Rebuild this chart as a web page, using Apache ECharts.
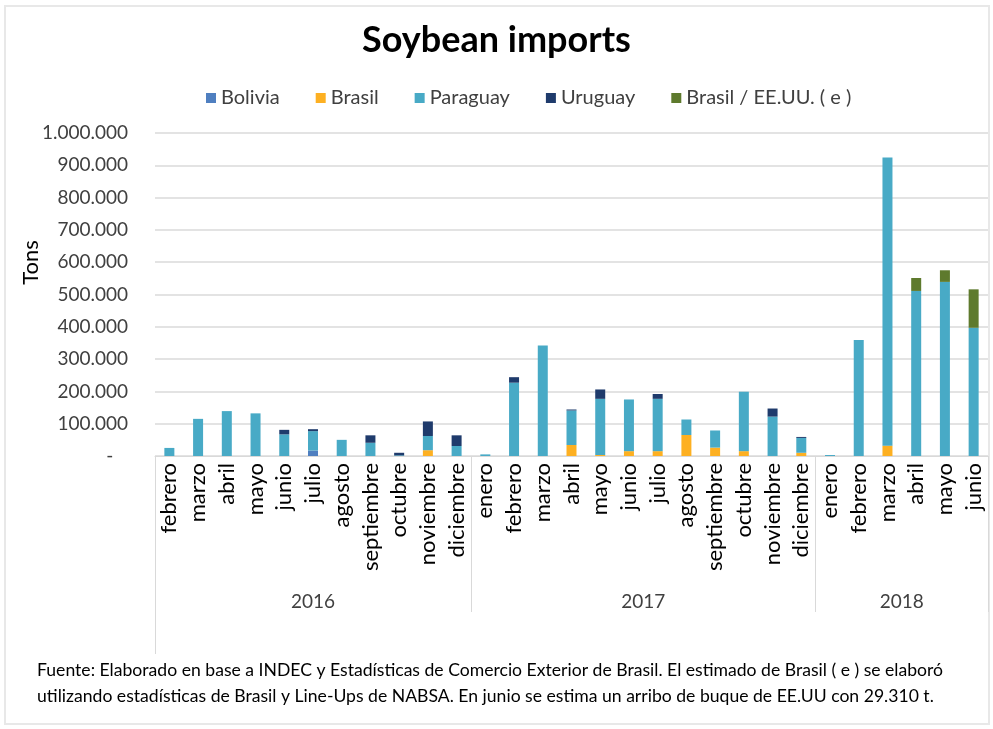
<!DOCTYPE html>
<html>
<head>
<meta charset="utf-8">
<script src="https://cdn.jsdelivr.net/npm/echarts@6/dist/echarts.min.js"></script>
<style>
  html, body { margin: 0; padding: 0; background: #fff; }
  #frame { position: absolute; left: 4px; top: 5px; width: 986px; height: 720px; border: 2px solid #e8e8e8; box-sizing: border-box; }
  #chart { position: absolute; left: 0; top: 0; width: 993px; height: 729px; }
</style>
</head>
<body>
<div id="frame"></div>
<div id="chart"></div>
<script>
// ---- Data ----
const months = [
  'febrero','marzo','abril','mayo','junio','julio','agosto','septiembre','octubre','noviembre','diciembre',
  'enero','febrero','marzo','abril','mayo','junio','julio','agosto','septiembre','octubre','noviembre','diciembre',
  'enero','febrero','marzo','abril','mayo','junio'
];
const years = ['2016', '2017', '2018'];
const yearMonthCounts = [11, 12, 6];

const bolivia = [0,0,0,0,0,17000,0,0,0,0,0, 0,0,0,0,0,0,0,0,0,0,0,0, 0,0,0,0,0,0];
const brasil  = [0,0,0,0,0,0,0,0,0,18000,0, 0,0,0,34000,3000,15000,15000,65000,26000,15000,0,10000, 0,0,32000,0,0,0];
const paraguay = [25000,115000,139000,132000,67000,60000,50000,41000,2000,44000,31000,
                  5000,227000,342000,107000,174000,160000,162000,48000,53000,184000,122000,46000,
                  3000,359000,892000,511000,539000,397000];
const uruguay = [0,0,0,0,14000,6000,0,23000,8000,45000,33000, 0,17000,0,3000,29000,0,15000,0,0,0,25000,3000, 0,0,0,0,0,0];
const brasilEEUU = [0,0,0,0,0,0,0,0,0,0,0, 0,0,0,0,0,0,0,0,0,0,0,0, 0,0,0,40000,36000,119000];

const yTicks = { min: 0, max: 1000000, interval: 100000 };

// ---- Year axis helper (half-month points, boundaryGap false) ----
const total = months.length;
const yearPoints = new Array(total * 2 + 1).fill('');
const boundaryIdx = [0];
let acc = 0;
yearMonthCounts.forEach((n, k) => {
  yearPoints[acc * 2 + n] = years[k];
  acc += n;
  boundaryIdx.push(acc * 2);
});

const fmt = v => v === 0 ? '-   ' : String(v).replace(/\B(?=(\d{3})+(?!\d))/g, '.');

const FONT = 'Lato';
const chart = echarts.init(document.getElementById('chart'));
const mk = (name, data, color) => ({
  name, type: 'bar', stack: 'total', data, barWidth: 10,
  itemStyle: { color }, emphasis: { disabled: true }
});

chart.setOption({
  animation: false,
  textStyle: { fontFamily: FONT },
  title: [
    { text: 'Soybean imports', left: 'center', top: 17,
      textStyle: { fontFamily: FONT, fontSize: 36, fontWeight: 'bold', color: '#000' } },
    { text: 'Fuente: Elaborado en base a INDEC y Estadísticas de Comercio Exterior de Brasil. El estimado de Brasil ( e ) se elaboró\nutilizando estadísticas de Brasil y Line-Ups de NABSA. En junio se estima un arribo de buque de EE.UU con 29.310 t.',
      left: 32, top: 652,
      textStyle: { fontFamily: FONT, fontSize: 17.6, fontWeight: 'normal', color: '#000', lineHeight: 26 } }
  ],
  legend: {
    top: 83, left: 201, icon: 'rect', itemWidth: 10, itemHeight: 10, itemGap: 36,
    textStyle: { fontFamily: FONT, fontSize: 20, color: '#404040' },
    data: ['Bolivia', 'Brasil', 'Paraguay', 'Uruguay', 'Brasil / EE.UU. ( e )']
  },
  grid: { left: 155, right: 5, top: 133, bottom: 273, containLabel: false },
  xAxis: [
    { type: 'category', data: months, gridIndex: 0,
      axisLine: { show: true, lineStyle: { color: '#d9d9d9', width: 1 } },
      axisTick: { show: false },
      axisLabel: { interval: 0, rotate: 90, margin: 7, fontFamily: FONT, fontSize: 22, color: '#000' } },
    { type: 'category', data: yearPoints, boundaryGap: false, gridIndex: 0, position: 'bottom',
      axisLine: { show: false },
      axisTick: { show: true, length: 156, interval: i => boundaryIdx.includes(i), lineStyle: { color: '#d9d9d9' } },
      axisLabel: { interval: 0, margin: 136, fontFamily: FONT, fontSize: 19, color: '#404040' } },
    { type: 'category', data: yearPoints, boundaryGap: false, gridIndex: 0, position: 'bottom',
      axisLine: { show: false },
      axisTick: { show: true, length: 198, interval: i => i === 0, lineStyle: { color: '#d9d9d9' } },
      axisLabel: { show: false } }
  ],
  yAxis: {
    type: 'value', min: yTicks.min, max: yTicks.max, interval: yTicks.interval,
    name: 'Tons', nameLocation: 'middle', nameGap: 113, nameMoveOverlap: false,
    nameTextStyle: { fontFamily: FONT, fontSize: 22, color: '#000', padding: [0, 0, 0, 64] },
    axisLine: { show: false }, axisTick: { show: false },
    axisLabel: { formatter: fmt, margin: 27, fontFamily: FONT, fontSize: 19, color: '#404040' },
    splitLine: { lineStyle: { color: '#e3e3e3', width: 2 } }
  },
  series: [
    mk('Bolivia', bolivia, '#4F7FC0'),
    mk('Brasil', brasil, '#FDB022'),
    mk('Paraguay', paraguay, '#48AAC6'),
    mk('Uruguay', uruguay, '#1F3B6C'),
    mk('Brasil / EE.UU. ( e )', brasilEEUU, '#5E7A2D')
  ]
});
</script>
</body>
</html>
